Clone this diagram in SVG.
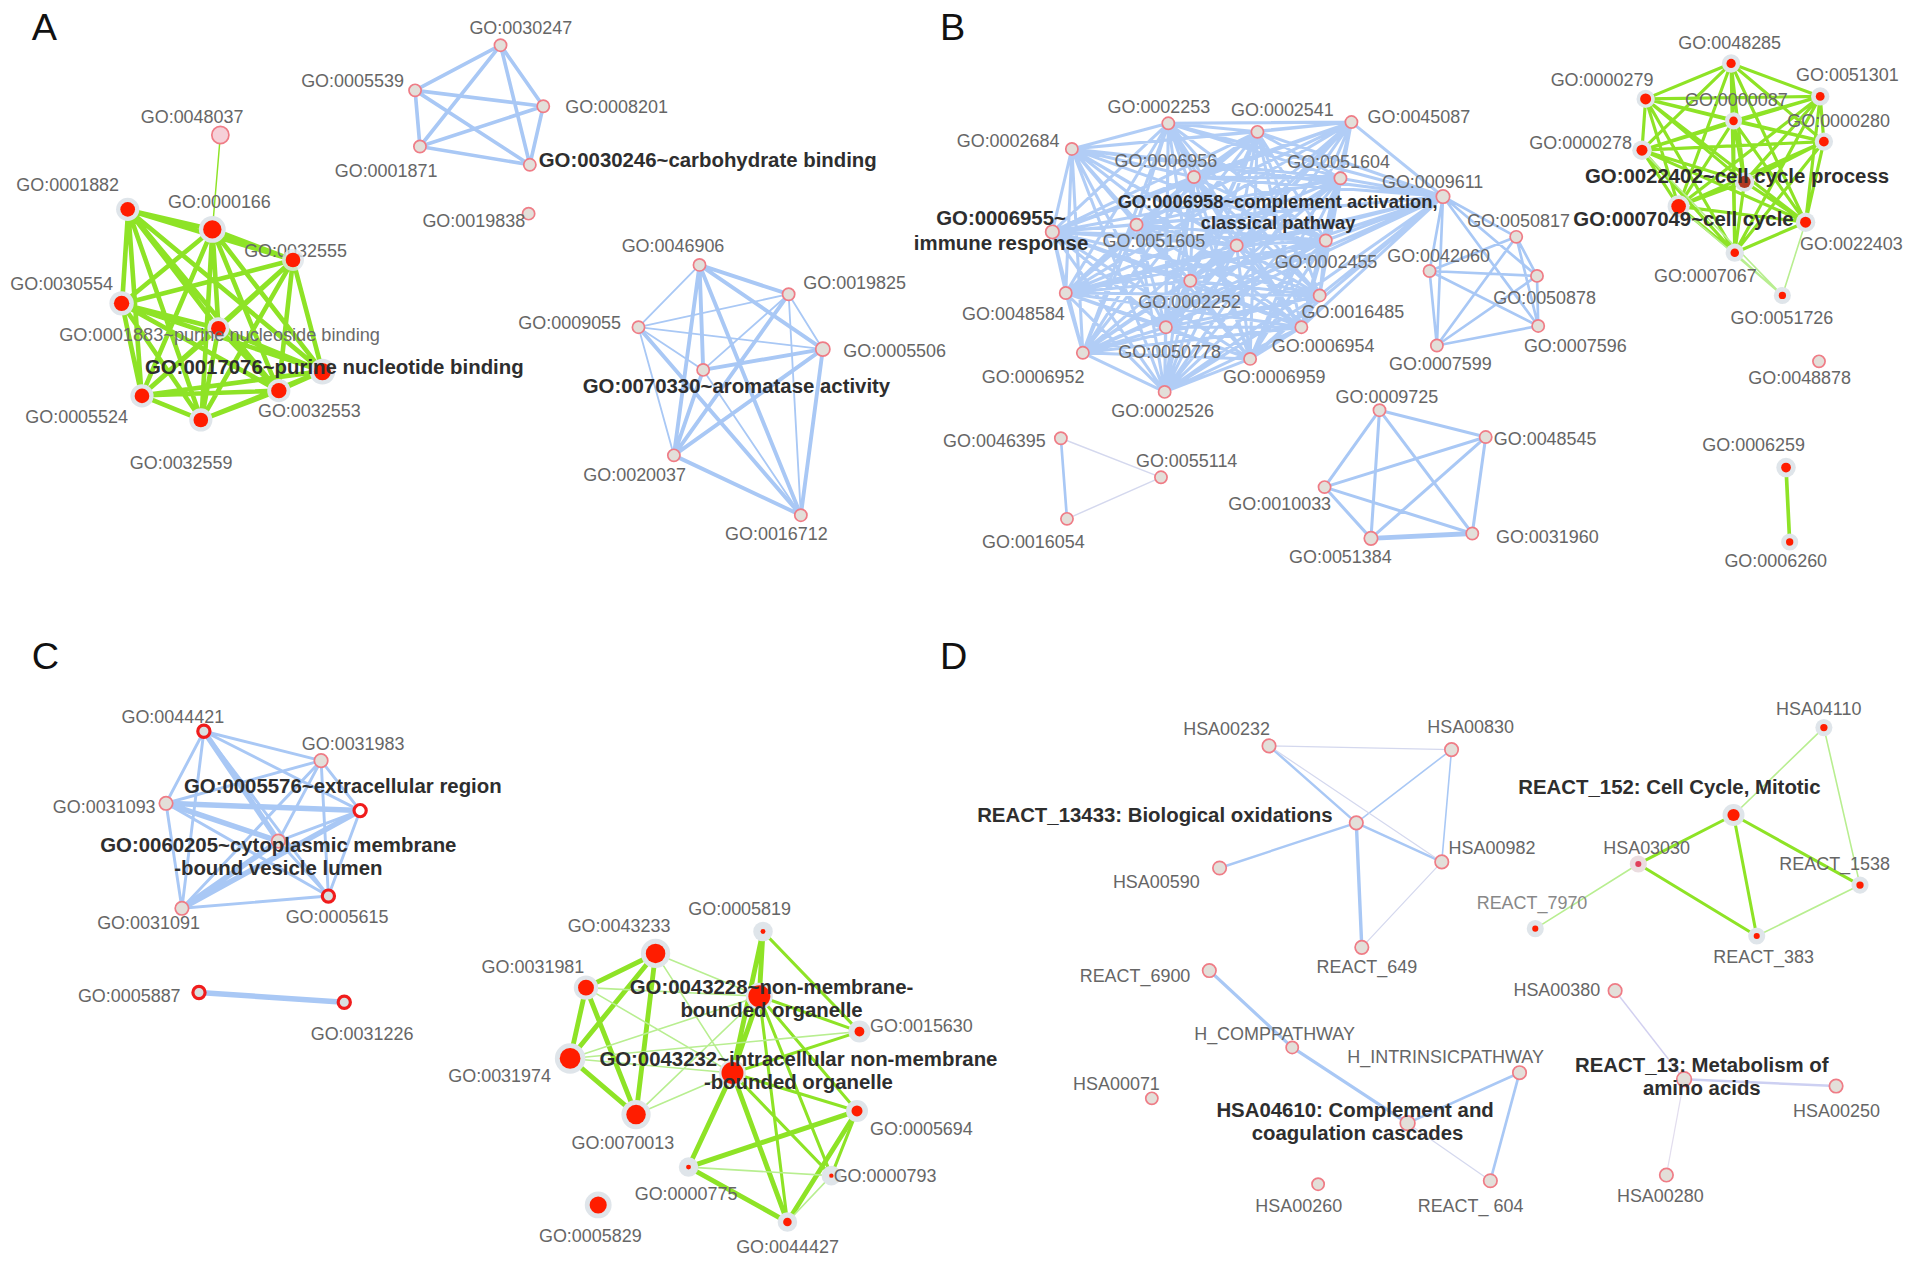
<svg xmlns="http://www.w3.org/2000/svg" width="1913" height="1267" viewBox="0 0 1913 1267">
<style>
.t{font-family:"Liberation Sans",Arial,sans-serif;font-size:14.7px;fill:#666}
.t2{font-family:"Liberation Sans",Arial,sans-serif;font-size:14.9px;fill:#6a6a6a}
.b{font-family:"Liberation Sans",Arial,sans-serif;font-weight:bold;font-size:16.7px;fill:#2e2e2e}
.m{text-anchor:middle}
.L{font-family:"Liberation Sans",Arial,sans-serif;font-size:31px;fill:#111}
.h{fill:#e3dfd9;stroke:#ef7c86;stroke-width:1.4}
.hr{fill:#d9e0e1;stroke:#f01c1c;stroke-width:2.6}
.o{fill:#dfe5ea}
.r{fill:#ff1d00}
.eb{fill:none;stroke:#a9c8f5;stroke-linecap:round;stroke-linejoin:round}
.ep{fill:none;stroke:#d4d8ee;stroke-linecap:round}
.eg{fill:none;stroke:#8ee326;stroke-linecap:round;stroke-linejoin:round}
.el{fill:none;stroke:#b8ee90;stroke-linecap:round}
</style>
<rect width="1913" height="1267" fill="#fff"/>
<g transform="scale(1.2208)">
<g id="panel-letters">
<text class="L" x="26" y="33">A</text>
<text class="L" x="770" y="33">B</text>
<text class="L" x="26" y="548">C</text>
<text class="L" x="770" y="548">D</text>
</g>
<g id="connectors">
<path class="eg" stroke-width="3.8" d="M105 172L174 188L240 213L100 249L179 269L264 304L116 324L228 320L165 344ZM105 172L240 213L179 269L116 324L165 344L174 188L100 249L264 304L228 320ZM105 172L179 269L165 344L100 249L228 320L240 213L116 324L174 188L264 304ZM105 172L100 249L116 324ZM174 188L179 269L228 320ZM240 213L264 304L165 344Z"/>
<path class="eg" stroke-width="1.2" d="M180.5 110.6L174 188"/>
<path class="eb" stroke-width="3" d="M410 37L445 87L434 135L344 120L340 74ZM410 37L434 135L340 74L445 87L344 120Z"/>
<path class="eb" stroke-width="1.5" d="M573 217L646 241L674 286L656 422L552 373L523 268L576 303ZM573 217L674 286L552 373L576 303L646 241L656 422L523 268ZM573 217L656 422L576 303L674 286L523 268L646 241L552 373Z"/>
<path class="eb" stroke-width="3.2" d="M573 217L576 303M573 217L552 373M573 217L656 422M573 217L674 286M573 217L646 241M576 303L674 286M552 373L674 286M552 373L656 422M674 286L656 422M523 268L656 422M552 373L646 241M576 303L552 373"/>
<path class="eb" stroke-width="2.5" opacity="0.9" d="M957 101L1030 108L1107 100L1182 161L1098 146L1086 197L1081 242L1066 268L1024 294L954 321L887 289L873 240L862 190L878 122L978 145L931 184L1013 201L975 230L955 268Z
M957 101L1107 100L1098 146L1081 242L1024 294L887 289L862 190L978 145L1013 201L955 268L1030 108L1182 161L1086 197L1066 268L954 321L873 240L878 122L931 184L975 230Z
M957 101L1182 161L1081 242L954 321L862 190L931 184L955 268L1107 100L1086 197L1024 294L873 240L978 145L975 230L1030 108L1098 146L1066 268L887 289L878 122L1013 201Z
M957 101L1098 146L1024 294L862 190L1013 201L1030 108L1086 197L954 321L878 122L975 230L1107 100L1081 242L887 289L978 145L955 268L1182 161L1066 268L873 240L931 184Z
M957 101L1086 197L887 289L931 184L1030 108L1081 242L873 240L1013 201L1107 100L1066 268L862 190L975 230L1182 161L1024 294L878 122L955 268L1098 146L954 321L978 145Z
M957 101L1081 242L862 190L955 268L1086 197L873 240L975 230L1098 146L887 289L1013 201L1182 161L954 321L931 184L1107 100L1024 294L978 145L1030 108L1066 268L878 122Z
M957 101L1066 268L978 145L1107 100L954 321L1013 201L1098 146L873 240L955 268L1081 242L878 122L1030 108L1024 294L931 184L1182 161L887 289L975 230L1086 197L862 190Z
M957 101L1024 294L1013 201L1086 197L878 122L1107 100L887 289L955 268L1066 268L931 184L1098 146L862 190L1030 108L954 321L975 230L1081 242L978 145L1182 161L873 240Z
M957 101L954 321L955 268L1024 294L975 230L1066 268L1013 201L1081 242L931 184L1086 197L978 145L1098 146L878 122L1182 161L862 190L1107 100L873 240L1030 108L887 289Z"/>
<path class="eb" stroke-width="2.2" d="M1182 161L1171 222M1182 161L1177 283M1182 161L1242 194M1182 161L1259 226M1182 161L1260 267M1171 222L1177 283M1171 222L1242 194M1171 222L1259 226M1171 222L1260 267M1177 283L1242 194M1177 283L1259 226M1177 283L1260 267M1242 194L1259 226M1242 194L1260 267M1259 226L1260 267"/>
<path class="eg" stroke-width="2.6" d="M1418 52L1491 79L1494 116L1479 182L1421 207L1375 169L1345 123L1348 81L1420 99ZM1418 52L1494 116L1421 207L1345 123L1420 99L1491 79L1479 182L1375 169L1348 81ZM1418 52L1421 207L1420 99L1479 182L1348 81L1494 116L1345 123L1491 79L1375 169ZM1418 52L1479 182L1345 123ZM1491 79L1421 207L1348 81ZM1494 116L1375 169L1420 99ZM1429 149L1418 52M1429 149L1491 79M1429 149L1494 116M1429 149L1479 182M1429 149L1421 207M1429 149L1375 169M1429 149L1345 123M1429 149L1348 81M1429 149L1420 99"/>
<path class="el" stroke-width="1.3" d="M1460 242L1421 207M1460 242L1479 182M1460 242L1375 169M1460 242L1345 123"/>
<path class="eg" stroke-width="3" d="M1463 383L1466 444"/>
<path class="eb" stroke-width="2.2" d="M869 359L874 425"/>
<path class="ep" stroke-width="1.2" d="M869 359L951 391M874 425L951 391"/>
<path class="eb" stroke-width="2.5" d="M1130 336L1217 358L1206 437L1123 441L1085 399ZM1130 336L1206 437L1085 399L1217 358L1123 441Z"/>
<path class="eb" stroke-width="4" d="M1123 441L1206 437"/>
<path class="eb" stroke-width="2.4" d="M167 599L263 623L295 664L269 734L149 744L136 658L228 689ZM167 599L295 664L149 744L228 689L263 623L269 734L136 658ZM167 599L269 734L228 689L295 664L136 658L263 623L149 744Z"/>
<path class="eb" stroke-width="4.5" d="M136 658L295 664M149 744L295 664M136 658L228 689M167 599L228 689M149 744L228 689"/>
<path class="eb" stroke-width="4.5" d="M163 813L282 821"/>
<path class="eg" stroke-width="4" d="M537 781L480 809M537 781L467 867M537 781L521 913M480 809L467 867M480 809L521 913M467 867L521 913M625 763L622 816M622 816L600 879M600 879L564 956M564 956L702 910M564 956L645 1001M702 910L645 1001M600 879L645 1001M625 763L600 879"/>
<path class="eg" stroke-width="2.5" d="M625 763L704 845M622 816L704 845M600 879L704 845M622 816L702 910M600 879L702 910M622 816L681 963M600 879L681 963M702 910L681 963M622 816L645 1001"/>
<path class="el" stroke-width="1.3" d="M537 781L622 816M537 781L600 879M480 809L622 816M480 809L600 879M467 867L622 816M467 867L600 879M521 913L600 879M521 913L622 816M564 956L681 963M681 963L645 1001M467 867L704 845"/>
<path class="eb" stroke-width="2" d="M1039.5 611L1111 674M1111 674L999 711M1111 674L1181 706"/>
<path class="eb" stroke-width="2.8" d="M1111 674L1115.5 776"/>
<path class="eb" stroke-width="1.3" d="M1189 614L1111 674M1189 614L1181 706"/>
<path class="ep" stroke-width="1" d="M1039.5 611L1189 614M1039.5 611L1181 706M1181 706L1115.5 776"/>
<path class="eb" stroke-width="2.6" d="M990.6 795L1058.5 858L1153 920"/>
<path class="eb" stroke-width="2.2" d="M1153 920L1244.7 878.7L1220.8 967.2"/>
<path class="ep" stroke-width="1" d="M1153 920L1220.8 967.2"/>
<path fill="none" stroke="#d2d0f0" stroke-width="1.2" d="M1323 811.5L1379.5 884"/>
<path fill="none" stroke="#cdd0f2" stroke-width="2" d="M1379.5 884L1504 889.6"/>
<path fill="none" stroke="#e2ddee" stroke-width="1" d="M1379.5 884L1365 962.5"/>
<path class="eg" stroke-width="2.5" d="M1420 667.6L1342 707.7M1420 667.6L1439 766.7M1420 667.6L1523.6 725M1342 707.7L1439 766.7"/>
<path class="el" stroke-width="1.3" d="M1494 596L1420 667.6M1494 596L1523.6 725M1342 707.7L1257.6 760.7M1523.6 725L1439 766.7"/>
</g>

<g id="n-GO0030247"><circle class="h" cx="410" cy="37" r="5"/><text class="t" x="384.5" y="27.9">GO:0030247</text></g>
<g id="n-GO0005539"><circle class="h" cx="340" cy="74" r="5"/><text class="t" x="246.7" y="71.5">GO:0005539</text></g>
<g id="n-GO0008201"><circle class="h" cx="445" cy="87" r="5"/><text class="t" x="463" y="92.8">GO:0008201</text></g>
<g id="n-GO0001871"><circle class="h" cx="344" cy="120" r="5"/><text class="t" x="274.2" y="144.7">GO:0001871</text></g>
<g id="n-GO0030246"><circle class="h" cx="434" cy="135" r="5"/><text class="b" x="441.3" y="137">GO:0030246~carbohydrate binding</text></g>
<g id="n-GO0019838"><circle class="h" cx="433" cy="175" r="5"/><text class="t" x="346" y="186.2">GO:0019838</text></g>
<g id="n-GO0048037"><circle class="h" cx="180.5" cy="110.6" r="7" style="fill:#f6d0d8"/><text class="t" x="115.3" y="100.5">GO:0048037</text></g>
<g id="n-GO0001882"><circle class="o" cx="104.6" cy="171.5" r="9.5"/><circle class="r" cx="104.6" cy="171.5" r="6"/><text class="t" x="13.4" y="156.2">GO:0001882</text></g>
<g id="n-GO0000166"><circle class="o" cx="173.9" cy="187.9" r="11"/><circle class="r" cx="173.9" cy="187.9" r="7.5"/><text class="t" x="137.7" y="170.7">GO:0000166</text></g>
<g id="n-GO0032555"><text class="t" x="200" y="210.3">GO:0032555</text><circle class="o" cx="240" cy="213" r="9" opacity="0.8"/><circle class="r" cx="240" cy="213" r="6"/></g>
<g id="n-GO0030554"><circle class="o" cx="99.6" cy="248.5" r="10"/><circle class="r" cx="99.6" cy="248.5" r="6.3"/><text class="t" x="8.4" y="237.6">GO:0030554</text></g>
<g id="n-GO0001883"><circle class="o" cx="178.9" cy="268.9" r="9"/><circle class="r" cx="178.9" cy="268.9" r="6"/><text class="t2" x="48.5" y="279">GO:0001883~purine nucleoside binding</text></g>
<g id="n-GO0017076"><circle class="o" cx="264.1" cy="304.4" r="10.5"/><circle class="r" cx="264.1" cy="304.4" r="7"/><text class="b" x="118.7" y="306.3">GO:0017076~purine nucleotide binding</text></g>
<g id="n-GO0005524"><circle class="o" cx="116.3" cy="324.3" r="9.5"/><circle class="r" cx="116.3" cy="324.3" r="6"/><text class="t" x="20.7" y="346.7">GO:0005524</text></g>
<g id="n-GO0032553"><circle class="o" cx="228.4" cy="320" r="9.5"/><circle class="r" cx="228.4" cy="320" r="6.3"/><text class="t" x="211.3" y="341.3">GO:0032553</text></g>
<g id="n-GO0032559"><circle class="o" cx="164.5" cy="344" r="9.5"/><circle class="r" cx="164.5" cy="344" r="6"/><text class="t" x="106.3" y="384.4">GO:0032559</text></g>
<g id="n-GO0046906"><circle class="h" cx="573" cy="217" r="5"/><text class="t" x="509.2" y="206.1">GO:0046906</text></g>
<g id="n-GO0019825"><circle class="h" cx="646" cy="241" r="5"/><text class="t" x="658" y="237">GO:0019825</text></g>
<g id="n-GO0009055"><circle class="h" cx="523" cy="268" r="5"/><text class="t" x="424.6" y="269.7">GO:0009055</text></g>
<g id="n-GO0005506"><circle class="h" cx="674" cy="286" r="5.8"/><text class="t" x="690.8" y="292.1">GO:0005506</text></g>
<g id="n-GO0070330"><circle class="h" cx="576" cy="303" r="5"/><text class="b" x="477.3" y="322.2">GO:0070330~aromatase activity</text></g>
<g id="n-GO0020037"><circle class="h" cx="552" cy="373" r="5"/><text class="t" x="477.8" y="393.7">GO:0020037</text></g>
<g id="n-GO0016712"><circle class="h" cx="656" cy="422" r="5"/><text class="t" x="593.9" y="442.3">GO:0016712</text></g>

<g id="n-GO0002253"><circle class="h" cx="957" cy="101" r="5"/><text class="t" x="907.2" y="92.3">GO:0002253</text></g>
<g id="n-GO0002541"><circle class="h" cx="1030" cy="108" r="5"/><text class="t" x="1008.4" y="95">GO:0002541</text></g>
<g id="n-GO0045087"><circle class="h" cx="1107" cy="100" r="5"/><text class="t" x="1120.2" y="101">GO:0045087</text></g>
<g id="n-GO0002684"><circle class="h" cx="878" cy="122" r="5"/><text class="t" x="783.7" y="120.1">GO:0002684</text></g>
<g id="n-GO0006956"><circle class="h" cx="978" cy="145" r="5"/><text class="t" x="913" y="136.5">GO:0006956</text></g>
<g id="n-GO0051604"><circle class="h" cx="1098" cy="146" r="5"/><text class="t" x="1054.4" y="137.4">GO:0051604</text></g>
<g id="n-GO0009611"><circle class="h" cx="1182" cy="161" r="5.5"/><text class="t" x="1132" y="154.3">GO:0009611</text></g>
<g id="n-GO0006955"><circle class="h" cx="862" cy="190" r="5.5"/><text class="b m" x="820" y="184.3">GO:0006955~</text><text class="b m" x="820" y="204.8">immune response</text></g>
<g id="n-GO0051605"><circle class="h" cx="931" cy="184" r="5"/><text class="t" x="903.1" y="202.6">GO:0051605</text></g>
<g id="n-GO0006958"><circle class="h" cx="1013" cy="201" r="5"/><text class="b m" x="1046.5" y="170.7" style="font-size:15px">GO:0006958~complement activation,</text><text class="b m" x="1047" y="187.9" style="font-size:15px">classical pathway</text></g>
<g id="n-GO0002455"><circle class="h" cx="1086" cy="197" r="5"/><text class="t" x="1044.1" y="219.3">GO:0002455</text></g>
<g id="n-GO0042060"><circle class="h" cx="1171" cy="222" r="5"/><text class="t" x="1136.3" y="214.4">GO:0042060</text></g>
<g id="n-GO0048584"><circle class="h" cx="873" cy="240" r="5"/><text class="t" x="788.1" y="262.1">GO:0048584</text></g>
<g id="n-GO0002252"><circle class="h" cx="975" cy="230" r="5"/><text class="t" x="932.4" y="252.6">GO:0002252</text></g>
<g id="n-GO0016485"><circle class="h" cx="1081" cy="242" r="5"/><text class="t" x="1066.1" y="260.8">GO:0016485</text></g>
<g id="n-GO0006954"><circle class="h" cx="1066" cy="268" r="5"/><text class="t" x="1041.8" y="288.1">GO:0006954</text></g>
<g id="n-GO0050778"><circle class="h" cx="955" cy="268" r="5"/><text class="t" x="916" y="293.5">GO:0050778</text></g>
<g id="n-GO0006952"><circle class="h" cx="887" cy="289" r="5"/><text class="t" x="804.2" y="313.5">GO:0006952</text></g>
<g id="n-GO0006959"><circle class="h" cx="1024" cy="294" r="5"/><text class="t" x="1001.7" y="314">GO:0006959</text></g>
<g id="n-GO0002526"><circle class="h" cx="954" cy="321" r="5"/><text class="t" x="910.3" y="341.3">GO:0002526</text></g>
<g id="n-GO0007599"><circle class="h" cx="1177" cy="283" r="5"/><text class="t" x="1137.8" y="303.1">GO:0007599</text></g>
<g id="n-GO0050817"><circle class="h" cx="1242" cy="194" r="5"/><text class="t" x="1201.8" y="186.1">GO:0050817</text></g>
<g id="n-GO0050878"><circle class="h" cx="1259" cy="226" r="5"/><text class="t" x="1223.2" y="249">GO:0050878</text></g>
<g id="n-GO0007596"><circle class="h" cx="1260" cy="267" r="5"/><text class="t" x="1248.3" y="288.5">GO:0007596</text></g>
<g id="n-GO0046395"><circle class="h" cx="869" cy="359" r="5"/><text class="t" x="772.5" y="365.9">GO:0046395</text></g>
<g id="n-GO0055114"><circle class="h" cx="951" cy="391" r="5"/><text class="t" x="930.5" y="382.8">GO:0055114</text></g>
<g id="n-GO0016054"><circle class="h" cx="874" cy="425" r="5"/><text class="t" x="804.4" y="449.2">GO:0016054</text></g>
<g id="n-GO0009725"><circle class="h" cx="1130" cy="336" r="5"/><text class="t" x="1094" y="329.8">GO:0009725</text></g>
<g id="n-GO0048545"><circle class="h" cx="1217" cy="358" r="5"/><text class="t" x="1223.6" y="364.5">GO:0048545</text></g>
<g id="n-GO0010033"><circle class="h" cx="1085" cy="399" r="5"/><text class="t" x="1006.2" y="417.8">GO:0010033</text></g>
<g id="n-GO0051384"><circle class="h" cx="1123" cy="441" r="5.5"/><text class="t" x="1055.9" y="460.9">GO:0051384</text></g>
<g id="n-GO0031960"><circle class="h" cx="1206" cy="437" r="5"/><text class="t" x="1225.4" y="445.1">GO:0031960</text></g>
<g id="n-GO0048285"><circle class="o" cx="1418" cy="52" r="7.5"/><circle class="r" cx="1418" cy="52" r="3.8"/><text class="t" x="1374.8" y="40.4">GO:0048285</text></g>
<g id="n-GO0000279"><circle class="o" cx="1348" cy="81" r="7.5"/><circle class="r" cx="1348" cy="81" r="4.5"/><text class="t" x="1270.2" y="70.5">GO:0000279</text></g>
<g id="n-GO0051301"><circle class="o" cx="1491" cy="79" r="7.5"/><circle class="r" cx="1491" cy="79" r="3.6"/><text class="t" x="1471.2" y="66.7">GO:0051301</text></g>
<g id="n-GO0000087"><circle class="o" cx="1420" cy="99" r="7"/><circle class="r" cx="1420" cy="99" r="3.5"/><text class="t" x="1380.2" y="86.6">GO:0000087</text></g>
<g id="n-GO0000280"><circle class="o" cx="1494" cy="116" r="7.5"/><circle class="r" cx="1494" cy="116" r="4"/><text class="t" x="1464" y="104.2">GO:0000280</text></g>
<g id="n-GO0000278"><circle class="o" cx="1345" cy="123" r="8"/><circle class="r" cx="1345" cy="123" r="4.5"/><text class="t" x="1252.7" y="122.3">GO:0000278</text></g>
<g id="n-GO0022402"><circle class="o" cx="1429" cy="149" r="8"/><circle class="r" cx="1429" cy="149" r="5" style="fill:#b03a22"/><text class="b" x="1298.3" y="149.5">GO:0022402~cell cycle process</text></g>
<g id="n-GO0007049"><circle class="o" cx="1375" cy="169" r="9"/><circle class="r" cx="1375" cy="169" r="6"/><text class="b" x="1288.8" y="185.5">GO:0007049~cell cycle</text></g>
<g id="n-GO0022403"><circle class="o" cx="1479" cy="182" r="8"/><circle class="r" cx="1479" cy="182" r="4.5"/><text class="t" x="1474.5" y="205.1">GO:0022403</text></g>
<g id="n-GO0007067"><circle class="o" cx="1421" cy="207" r="7.5"/><circle class="r" cx="1421" cy="207" r="3.5"/><text class="t" x="1354.8" y="231.4">GO:0007067</text></g>
<g id="n-GO0051726"><circle class="o" cx="1460" cy="242" r="7"/><circle class="r" cx="1460" cy="242" r="3"/><text class="t" x="1417.6" y="265">GO:0051726</text></g>
<g id="n-GO0048878"><circle class="h" cx="1490" cy="296" r="5"/><text class="t" x="1432.1" y="314.2">GO:0048878</text></g>
<g id="n-GO0006259"><circle class="o" cx="1463" cy="383" r="8"/><circle class="r" cx="1463" cy="383" r="4"/><text class="t" x="1394.4" y="369.8">GO:0006259</text></g>
<g id="n-GO0006260"><circle class="o" cx="1466" cy="444" r="7"/><circle class="r" cx="1466" cy="444" r="3"/><text class="t" x="1412.5" y="464.6">GO:0006260</text></g>

<g id="n-GO0044421"><circle class="hr" cx="167" cy="599" r="5"/><text class="t" x="99.5" y="592">GO:0044421</text></g>
<g id="n-GO0031983"><circle class="h" cx="263" cy="623" r="5.5"/><text class="t" x="247.2" y="614.4">GO:0031983</text></g>
<g id="n-GO0005576"><circle class="hr" cx="295" cy="664" r="5" style="fill:#fff"/><text class="b" x="150.7" y="649.9">GO:0005576~extracellular region</text></g>
<g id="n-GO0031093"><circle class="h" cx="136" cy="658" r="5.5"/><text class="t" x="43.3" y="665.7">GO:0031093</text></g>
<g id="n-GO0060205"><circle class="h" cx="228" cy="689" r="5.5"/><text class="b m" x="228" y="697.6">GO:0060205~cytoplasmic membrane</text><text class="b m" x="228" y="716.8">-bound vesicle lumen</text></g>
<g id="n-GO0005615"><circle class="hr" cx="269" cy="734" r="5"/><text class="t" x="234" y="756.4">GO:0005615</text></g>
<g id="n-GO0031091"><circle class="h" cx="149" cy="744" r="5.5"/><text class="t" x="79.6" y="761.3">GO:0031091</text></g>
<g id="n-GO0005887"><circle class="hr" cx="163" cy="813" r="5"/><text class="t" x="63.8" y="820.5">GO:0005887</text></g>
<g id="n-GO0031226"><circle class="hr" cx="282" cy="821" r="5"/><text class="t" x="254.5" y="852">GO:0031226</text></g>
<g id="n-GO0043233"><circle class="o" cx="537" cy="781" r="12"/><circle class="r" cx="537" cy="781" r="8"/><text class="t" x="465" y="763.1">GO:0043233</text></g>
<g id="n-GO0005819"><circle class="o" cx="625" cy="763" r="8"/><circle class="r" cx="625" cy="763" r="2"/><text class="t" x="563.8" y="749.5">GO:0005819</text></g>
<g id="n-GO0031981"><circle class="o" cx="480" cy="809" r="10"/><circle class="r" cx="480" cy="809" r="6.5"/><text class="t" x="394.5" y="796.7">GO:0031981</text></g>
<g id="n-GO0043228"><circle class="o" cx="622" cy="816" r="11"/><circle class="r" cx="622" cy="816" r="9"/><text class="b m" x="632" y="814.2">GO:0043228~non-membrane-</text><text class="b m" x="632" y="833.3">bounded organelle</text></g>
<g id="n-GO0015630"><circle class="o" cx="704" cy="845" r="9"/><circle class="r" cx="704" cy="845" r="4"/><text class="t" x="712.7" y="845.1">GO:0015630</text></g>
<g id="n-GO0031974"><circle class="o" cx="467" cy="867" r="12.5"/><circle class="r" cx="467" cy="867" r="8.5"/><text class="t" x="367.2" y="886">GO:0031974</text></g>
<g id="n-GO0043232"><circle class="o" cx="600" cy="879" r="11"/><circle class="r" cx="600" cy="879" r="9"/><text class="b m" x="654" y="873.2">GO:0043232~intracellular non-membrane</text><text class="b m" x="654" y="892.3">-bounded organelle</text></g>
<g id="n-GO0070013"><circle class="o" cx="521" cy="913" r="12"/><circle class="r" cx="521" cy="913" r="8"/><text class="t" x="468.2" y="941.5">GO:0070013</text></g>
<g id="n-GO0005694"><circle class="o" cx="702" cy="910" r="9"/><circle class="r" cx="702" cy="910" r="4.5"/><text class="t" x="712.7" y="929.7">GO:0005694</text></g>
<g id="n-GO0000775"><circle class="o" cx="564" cy="956" r="8"/><circle class="r" cx="564" cy="956" r="2"/><text class="t" x="519.9" y="983">GO:0000775</text></g>
<g id="n-GO0000793"><circle class="o" cx="681" cy="963" r="8"/><circle class="r" cx="681" cy="963" r="1.8"/><text class="t" x="682.9" y="968">GO:0000793</text></g>
<g id="n-GO0005829"><circle class="o" cx="490" cy="987" r="11"/><circle class="r" cx="490" cy="987" r="7"/><text class="t" x="441.5" y="1017.1">GO:0005829</text></g>
<g id="n-GO0044427"><circle class="o" cx="645" cy="1001" r="8"/><circle class="r" cx="645" cy="1001" r="3.5"/><text class="t" x="603" y="1026.1">GO:0044427</text></g>

<g id="n-HSA00232"><circle class="h" cx="1039.5" cy="611" r="5.5"/><text class="t" x="969.2" y="602.1">HSA00232</text></g>
<g id="n-HSA00830"><circle class="h" cx="1189" cy="614" r="5.5"/><text class="t" x="1169.1" y="600.7">HSA00830</text></g>
<g id="n-REACT_13433"><circle class="h" cx="1111" cy="674" r="5.5"/><text class="b" x="800.4" y="673.6">REACT_13433: Biological oxidations</text></g>
<g id="n-HSA00590"><circle class="h" cx="999" cy="711" r="5.5"/><text class="t" x="911.6" y="727.1">HSA00590</text></g>
<g id="n-HSA00982"><circle class="h" cx="1181" cy="706" r="5.5"/><text class="t" x="1186.6" y="699.8">HSA00982</text></g>
<g id="n-REACT_649"><circle class="h" cx="1115.5" cy="776" r="5.5"/><text class="t" x="1078.4" y="796.8">REACT_649</text></g>
<g id="n-REACT_6900"><circle class="h" cx="990.6" cy="795" r="5.5"/><text class="t" x="884.4" y="804.1">REACT_6900</text></g>
<g id="n-HSA04110"><circle class="o" cx="1494" cy="596" r="7"/><circle class="r" cx="1494" cy="596" r="3"/><text class="t" x="1454.8" y="585.7">HSA04110</text></g>
<g id="n-REACT_152"><circle class="o" cx="1420" cy="667.6" r="9"/><circle class="r" cx="1420" cy="667.6" r="5"/><text class="b" x="1243.7" y="650.4">REACT_152: Cell Cycle, Mitotic</text></g>
<g id="n-HSA03030"><circle class="o" cx="1342" cy="707.7" r="7" style="fill:#ebdde0"/><circle class="r" cx="1342" cy="707.7" r="2.5" style="fill:#e0405a"/><text class="t" x="1313.3" y="699.6">HSA03030</text></g>
<g id="n-REACT_1538"><circle class="o" cx="1523.6" cy="725" r="7"/><circle class="r" cx="1523.6" cy="725" r="3"/><text class="t" x="1457.5" y="712.7">REACT_1538</text></g>
<g id="n-REACT_7970"><circle class="o" cx="1257.6" cy="760.7" r="7"/><circle class="r" cx="1257.6" cy="760.7" r="2.5"/><text class="t" x="1209.6" y="744.9" style="fill:#888">REACT_7970</text></g>
<g id="n-REACT_383"><circle class="o" cx="1439" cy="766.7" r="7"/><circle class="r" cx="1439" cy="766.7" r="2.5"/><text class="t" x="1403.4" y="788.6">REACT_383</text></g>
<g id="n-HSA00380"><circle class="h" cx="1323" cy="811.5" r="5.5"/><text class="t" x="1239.7" y="815.9">HSA00380</text></g>
<g id="n-H_COMPPATHWAY"><circle class="h" cx="1058.5" cy="858" r="5"/><text class="t" x="978.2" y="851.9">H_COMPPATHWAY</text></g>
<g id="n-H_INTRINSICPATHWAY"><circle class="h" cx="1244.7" cy="878.7" r="5.5"/><text class="t" x="1103.6" y="871">H_INTRINSICPATHWAY</text></g>
<g id="n-HSA00071"><circle class="h" cx="943.5" cy="899.7" r="5"/><text class="t" x="879" y="892.9">HSA00071</text></g>
<g id="n-REACT_13"><circle class="h" cx="1379.5" cy="884" r="6"/><text class="b m" x="1394" y="877.9">REACT_13: Metabolism of</text><text class="b m" x="1394" y="897">amino acids</text></g>
<g id="n-HSA00250"><circle class="h" cx="1504" cy="889.6" r="5.5"/><text class="t" x="1468.8" y="914.7">HSA00250</text></g>
<g id="n-HSA04610"><circle class="h" cx="1153" cy="920" r="6"/><text class="b m" x="1110" y="914.7">HSA04610: Complement and</text><text class="b m" x="1112" y="933.9">coagulation cascades</text></g>
<g id="n-HSA00260"><circle class="h" cx="1079.7" cy="970" r="5"/><text class="t" x="1028.3" y="992.6">HSA00260</text></g>
<g id="n-REACT_604"><circle class="h" cx="1220.8" cy="967.2" r="5.5"/><text class="t" x="1161.3" y="992.6">REACT_ 604</text></g>
<g id="n-HSA00280"><circle class="h" cx="1365" cy="962.5" r="5.5"/><text class="t" x="1324.5" y="984.4">HSA00280</text></g>
</g>
</svg>
